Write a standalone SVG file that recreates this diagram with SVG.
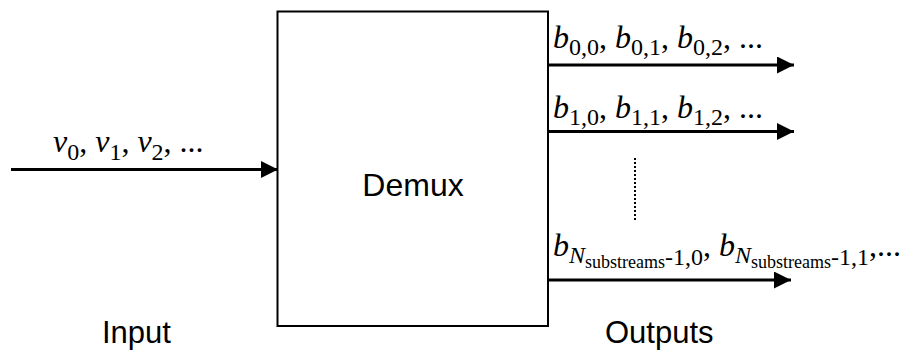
<svg xmlns="http://www.w3.org/2000/svg" width="912" height="350" viewBox="0 0 912 350">
<style>
.ln{stroke:#000;stroke-width:3;fill:none}
.m{font-family:"Liberation Serif",serif;font-size:32px;fill:#000}
.i{font-style:italic}
.s{font-size:24px}
.ss{font-size:18px}
.lab{font-family:"Liberation Sans",Arial,sans-serif;font-size:31px;fill:#000}
</style>
<defs>
<marker id="ah" markerWidth="17" markerHeight="17" refX="17" refY="8.5" orient="auto" markerUnits="userSpaceOnUse">
<path d="M0,0 L17,8.5 L0,17 Z" fill="#000"/>
</marker>
</defs>
<g id="connectors">
<line class="ln" x1="11" y1="169.5" x2="278" y2="169.5" marker-end="url(#ah)"/>
<line class="ln" x1="548" y1="65" x2="794" y2="65" marker-end="url(#ah)"/>
<line class="ln" x1="548" y1="131.5" x2="794" y2="131.5" marker-end="url(#ah)"/>
<line class="ln" x1="548" y1="280" x2="791" y2="280" marker-end="url(#ah)"/>
<line x1="635" y1="158" x2="635" y2="222" stroke="#000" stroke-width="2" stroke-dasharray="2,2"/>
</g>
<g id="demux">
<rect x="277.5" y="11.5" width="270.5" height="314.5" fill="none" stroke="#000" stroke-width="2"/>
<text class="lab" x="413" y="196" text-anchor="middle" style="font-size:32px">Demux</text>
</g>
<g id="input-label">
<text class="m" x="53" y="152"><tspan class="i">v</tspan><tspan class="s" dy="8">0</tspan><tspan dy="-8">, </tspan><tspan class="i">v</tspan><tspan class="s" dy="8">1</tspan><tspan dy="-8">, </tspan><tspan class="i">v</tspan><tspan class="s" dy="8">2</tspan><tspan dy="-8">, ...</tspan></text>
<text class="lab" x="102" y="343">Input</text>
</g>
<g id="outputs">
<text class="m" x="553" y="48"><tspan class="i">b</tspan><tspan class="s" dy="7">0,0</tspan><tspan dy="-7">, </tspan><tspan class="i">b</tspan><tspan class="s" dy="7">0,1</tspan><tspan dy="-7">, </tspan><tspan class="i">b</tspan><tspan class="s" dy="7">0,2</tspan><tspan dy="-7">, ...</tspan></text>
<text class="m" x="553" y="118"><tspan class="i">b</tspan><tspan class="s" dy="7">1,0</tspan><tspan dy="-7">, </tspan><tspan class="i">b</tspan><tspan class="s" dy="7">1,1</tspan><tspan dy="-7">, </tspan><tspan class="i">b</tspan><tspan class="s" dy="7">1,2</tspan><tspan dy="-7">, ...</tspan></text>
<text class="m" x="553" y="256"><tspan class="i">b</tspan><tspan class="s i" dy="7">N</tspan><tspan class="ss" dy="5">substreams</tspan><tspan class="s" dy="-3">-1,0</tspan><tspan dy="-9">, </tspan><tspan class="i">b</tspan><tspan class="s i" dy="7">N</tspan><tspan class="ss" dy="5">substreams</tspan><tspan class="s" dy="-3">-1,1</tspan><tspan dy="-9">,...</tspan></text>
<text class="lab" x="605" y="343">Outputs</text>
</g>
</svg>
